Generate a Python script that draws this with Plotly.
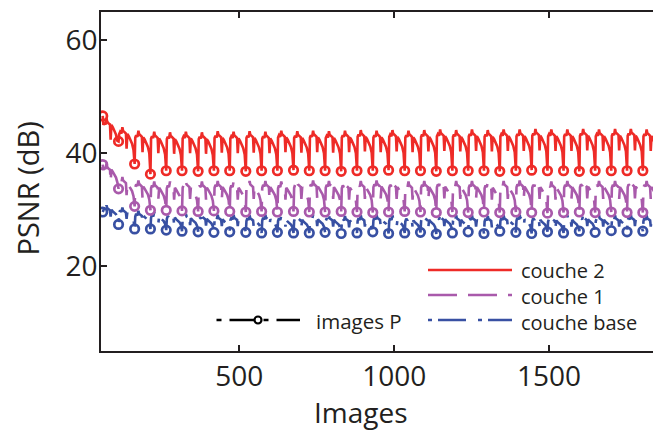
import plotly.graph_objects as go

# ---------------- data ----------------
X_RANGE = [53.4, 1835.8]
Y_RANGE = [5, 65]
X_TICKS = [500, 1000, 1500]
Y_TICKS = [20, 40, 60]

# frame numbers of the P images (markers)
P_FRAMES = [59, 110, 162, 213, 264, 315, 367, 418, 469, 521, 572, 623, 675, 726,
            777, 829, 880, 931, 982, 1034, 1085, 1136, 1188, 1239, 1290, 1341,
            1393, 1444, 1495, 1547, 1598, 1649, 1701, 1752, 1803]

# PSNR of the P images
RED_P = [46.6, 42.1, 38.1, 36.3, 36.9, 36.9, 36.8, 36.9, 36.9, 36.8, 36.9, 36.9,
         37.0, 36.9, 36.9, 36.8, 36.9, 36.9, 37.0, 36.9, 36.9, 36.8, 36.9, 36.9,
         36.9, 36.8, 36.9, 37.0, 36.9, 36.9, 36.8, 36.9, 36.9, 36.9, 36.9]
PURPLE_P = [38.0, 33.7, 30.6, 29.9, 29.9, 29.8, 29.7, 29.8, 29.7, 29.6, 29.7, 29.6,
            29.7, 29.6, 29.6, 29.7, 29.6, 29.5, 29.6, 29.7, 29.6, 29.5, 29.6, 29.5,
            29.6, 29.5, 29.6, 29.5, 29.4, 29.5, 29.6, 29.5, 29.6, 29.5, 29.5]
BLUE_P = [29.6, 27.4, 26.6, 26.6, 26.4, 26.2, 26.1, 26.0, 26.1, 26.0, 25.9, 26.0,
          25.9, 25.9, 26.0, 25.8, 25.9, 26.1, 25.8, 25.9, 26.0, 25.7, 25.9, 26.1,
          25.8, 26.2, 26.0, 25.8, 26.1, 25.9, 26.2, 26.0, 26.3, 26.1, 26.2]

# plateau level of the other images in each interval between P images
RED_HIGH = [44.8, 43.2, 42.6, 42.4, 42.3, 42.4, 42.3, 42.5, 42.4, 42.5, 42.4, 42.6,
            42.5, 42.6, 42.5, 42.6, 42.7, 42.6, 42.7, 42.6, 42.7, 42.8, 42.7, 42.8,
            42.7, 42.8, 42.8, 42.9, 42.8, 42.8, 42.9, 42.8, 42.9, 42.9, 42.8]
PURPLE_HIGH = [37.0, 34.6, 34.0, 33.8, 33.8, 33.9, 33.8, 33.9, 33.8, 33.9, 33.9, 33.8,
               33.9, 34.0, 33.9, 33.8, 33.9, 34.0, 33.9, 33.8, 33.9, 34.0, 33.9, 33.9,
               33.8, 33.9, 34.0, 33.9, 33.8, 33.9, 34.0, 33.9, 33.9, 34.0, 33.9]
BLUE_HIGH = [30.0, 29.6, 29.0, 28.8, 28.6, 28.5, 28.4, 28.3, 28.3, 28.2, 28.3, 28.2,
             28.2, 28.3, 28.2, 28.1, 28.2, 28.3, 28.2, 28.1, 28.2, 28.3, 28.2, 28.2,
             28.1, 28.2, 28.3, 28.2, 28.1, 28.2, 28.3, 28.2, 28.2, 28.3, 28.2]

# typical profile inside one interval (position as fraction of interval, deviation from plateau)
SHAPE_POS = [0.04, 0.10, 0.18, 0.24, 0.28, 0.36, 0.46, 0.50, 0.55, 0.64, 0.74, 0.84, 0.93]
RED_SHAPE = [0.2, 0.6, 0.3, 1.4, 0.8, 0.5, 0.3, -2.4, 0.2, -0.2, -0.8, -1.5, -2.6]
PURPLE_SHAPE = [0.0, 0.5, 0.2, 1.2, 0.6, 0.3, 0.1, -2.0, 0.1, -0.3, -0.8, -1.3, -2.2]
BLUE_SHAPE = [-0.2, 0.3, 0.0, 0.8, 0.3, 0.1, -0.1, -1.2, 0.0, -0.3, -0.5, -0.8, -1.3]

LEGEND_LABELS = ["couche 2", "couche 1", "couche base"]
MARKER_LABEL = "images P"

RED = "#EE2B27"
PURPLE = "#A95AAB"
BLUE = "#3850A3"
INK = "#231F20"
DASH_PURPLE = "29px,11px"
DASH_BLUE = "4px,6px,28px,12px"


def build(p_vals, highs, shape):
    xs, ys = [], []
    n = len(P_FRAMES)
    for k in range(n):
        x0 = P_FRAMES[k]
        gap = (P_FRAMES[k + 1] - x0) if k + 1 < n else 51
        xs.append(x0)
        ys.append(p_vals[k])
        for f, d in zip(SHAPE_POS, shape):
            xs.append(x0 + f * gap)
            ys.append(highs[k] + d)
    return xs, ys


fig = go.Figure()
series = [
    (BLUE_P, BLUE_HIGH, BLUE_SHAPE, BLUE, DASH_BLUE, LEGEND_LABELS[2]),
    (PURPLE_P, PURPLE_HIGH, PURPLE_SHAPE, PURPLE, DASH_PURPLE, LEGEND_LABELS[1]),
    (RED_P, RED_HIGH, RED_SHAPE, RED, "solid", LEGEND_LABELS[0]),
]
for p_vals, highs, shape, col, dash, name in series:
    xs, ys = build(p_vals, highs, shape)
    fig.add_trace(go.Scatter(x=xs, y=ys, mode="lines", name=name,
                             line=dict(color=col, width=2.6, dash=dash),
                             showlegend=False, hoverinfo="skip"))
    fig.add_trace(go.Scatter(x=P_FRAMES, y=p_vals, mode="markers", name=name + " " + MARKER_LABEL,
                             marker=dict(symbol="circle-open", size=8.5, color=col,
                                         line=dict(width=2.7, color=col)),
                             showlegend=False, hoverinfo="skip"))

# ---------------- layout ----------------
L, T, B = 101, 12, 81
W, H = 653, 432
PW, PH = W - L, H - T - B


def px(x):
    return (x - L) / PW


def py(y):
    return (H - B - y) / PH


shapes = []
annotations = []
leg_items = [(270, RED, "solid"),
             (295, PURPLE, DASH_PURPLE),
             (320, BLUE, DASH_BLUE)]
for yy, col, dash in leg_items:
    shapes.append(dict(type="line", xref="paper", yref="paper", x0=px(428), x1=px(512),
                       y0=py(yy), y1=py(yy), line=dict(color=col, width=2.6, dash=dash)))
annotations.append(dict(text="<br>".join(LEGEND_LABELS), xref="paper", yref="paper",
                        x=px(519), y=py(296.5), xanchor="left", yanchor="middle", align="left",
                        showarrow=False, font=dict(size=20, color=INK)))
# images P legend entry
shapes.append(dict(type="line", xref="paper", yref="paper", x0=px(216.5), x1=px(300),
                   y0=py(320), y1=py(320),
                   line=dict(color="black", width=2.4, dash="5px,8px,25px,9px")))
shapes.append(dict(type="circle", xref="paper", yref="paper", xsizemode="pixel", ysizemode="pixel",
                   xanchor=px(258), yanchor=py(320), x0=-3.5, x1=3.5, y0=-3.5, y1=3.5,
                   fillcolor="white", line=dict(color="black", width=2.2)))
annotations.append(dict(text=MARKER_LABEL, xref="paper", yref="paper", x=px(314), y=py(321),
                        xanchor="left", yanchor="middle", showarrow=False,
                        font=dict(size=20.5, color=INK)))
# axis titles
annotations.append(dict(text="Images", xref="paper", yref="paper", x=px(361), y=py(391),
                        xanchor="center", yanchor="top", showarrow=False,
                        font=dict(size=28, color=INK)))
annotations.append(dict(text="PSNR (dB)", xref="paper", yref="paper", x=px(27.5), y=py(189),
                        xanchor="center", yanchor="middle", textangle=-90, showarrow=False,
                        font=dict(size=29, color=INK)))

fig.update_layout(
    width=W, height=H,
    margin=dict(l=L, r=0, t=T, b=B),
    plot_bgcolor="white", paper_bgcolor="white",
    showlegend=False,
    font=dict(family="Open Sans, Lato, sans-serif", size=28, color=INK),
    shapes=shapes, annotations=annotations,
    xaxis=dict(range=X_RANGE, tickvals=X_TICKS, ticks="inside", ticklen=6, tickwidth=1.5,
               tickcolor=INK, showline=True, linecolor=INK, linewidth=1.6, mirror="ticks",
               showgrid=False, zeroline=False, tickfont=dict(size=28, color=INK)),
    yaxis=dict(range=Y_RANGE, tickvals=Y_TICKS, ticks="inside", ticklen=6, tickwidth=1.5,
               tickcolor=INK, showline=True, linecolor=INK, linewidth=1.6, mirror=False,
               showgrid=False, zeroline=False, tickfont=dict(size=28, color=INK),
               ticklabelstandoff=-4),
)

fig.write_html("out.html", config={"displayModeBar": False},
               post_script="document.body.style.margin='0';document.body.style.overflow='hidden';")
